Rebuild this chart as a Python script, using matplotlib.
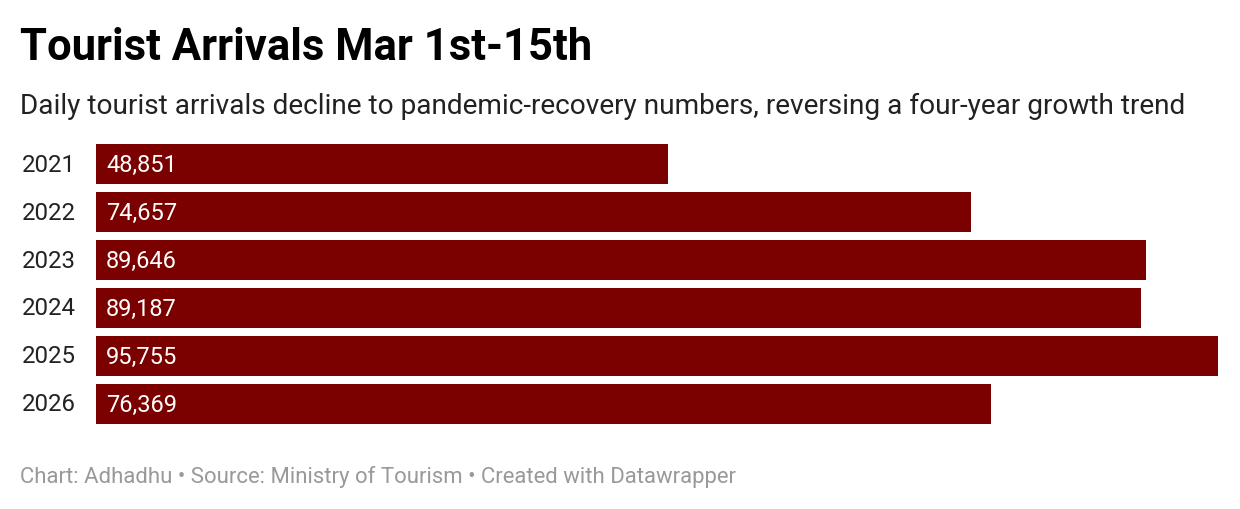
import matplotlib.pyplot as plt

years = ['2021', '2022', '2023', '2024', '2025', '2026']
arrivals = [48851, 74657, 89646, 89187, 95755, 76369]

title = 'Tourist Arrivals Mar 1st-15th'
subtitle = ('Daily tourist arrivals decline to pandemic-recovery numbers, '
            'reversing a four-year growth trend')
footer = 'Chart: Adhadhu \u2022 Source: Ministry of Tourism \u2022 Created with Datawrapper'

W, H = 1240, 510
plt.rcParams['font.family'] = ['Roboto', 'DejaVu Sans']

fig = plt.figure(figsize=(W / 100, H / 100), dpi=100)
fig.patch.set_facecolor('white')

# axes placed in pixel terms: bars from x=96 to 1218, rows 140..428
ax = fig.add_axes([96 / W, 1 - 429 / H, (1218 - 96) / W, 288 / H])
ypos = list(range(len(years)))
ax.barh(ypos, arrivals, height=40 / 48, color='#7b0000')
ax.set_xlim(0, max(arrivals))
ax.set_ylim(len(years) - 0.5, -0.5)
ax.axis('off')

for y, yr, v in zip(ypos, years, arrivals):
    ax.annotate(f'{v:,}', xy=(0, y), xycoords=('axes fraction', 'data'),
                xytext=(10, 0), textcoords='offset pixels',
                fontsize=17, color='white', va='center', ha='left')
    ax.annotate(yr, xy=(0, y), xycoords=('axes fraction', 'data'),
                xytext=(-74, 0), textcoords='offset pixels',
                fontsize=17.3, color='#222222', va='center', ha='left')

fig.text(20 / W, 1 - 48 / H, title, fontsize=31.4, fontweight='bold',
         color='#000000', va='center', ha='left')
fig.text(20 / W, 1 - 106 / H, subtitle, fontsize=20.2,
         color='#222222', va='center', ha='left')
fig.text(20 / W, 1 - 477 / H, footer, fontsize=15.9,
         color='#999999', va='center', ha='left')

fig.savefig('out.png', dpi=100)
